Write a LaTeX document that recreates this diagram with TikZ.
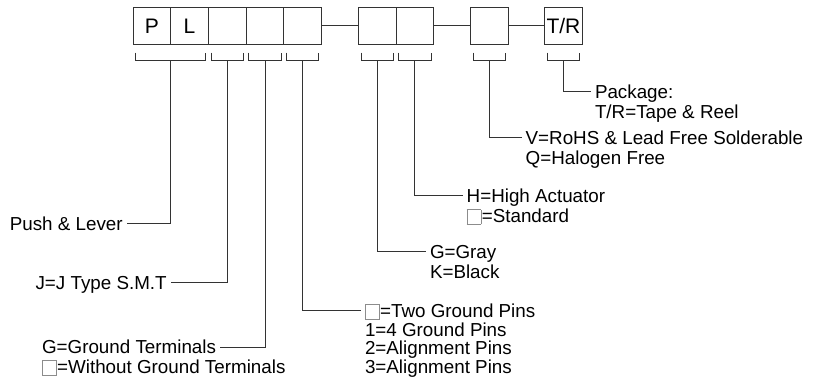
\documentclass[tikz,border=0pt]{standalone}
\usepackage{fontspec}
\setmainfont{Liberation Sans}
\usetikzlibrary{positioning,calc}
\definecolor{linegray}{gray}{0.2}
\definecolor{blankgray}{gray}{0.55}
\setlength{\fboxsep}{0pt}
\setlength{\fboxrule}{0.8pt}
% empty code position as printed in the legend
\newcommand{\blankcode}{\raisebox{-1.5pt}{\fcolorbox{blankgray}{white}{\rule{0pt}{14pt}\rule{13pt}{0pt}}}\hspace{0.5pt}}
% bracket under code boxes #1..#2, stem point #3
\newcommand{\codebracket}[3]{%
  \draw[wire] ([xshift=2.7pt,yshift=-8pt]#1.south west) -- ++(0,-8pt) -| ([xshift=-2.7pt,yshift=-8pt]#2.south east);
  \coordinate (#3) at ($([yshift=-16pt]#1.south west)!0.5!([yshift=-16pt]#2.south east)$);
}

\begin{document}
\begin{tikzpicture}[
  x=1pt, y=-1pt,
  codebox/.style={draw=linegray, line width=0.9pt, minimum width=37.7pt, minimum height=37.7pt, inner sep=0pt, outer sep=0pt, font=\fontsize{21pt}{21pt}\selectfont},
  lbl/.style={inner sep=0pt, outer xsep=4pt, text height=13.4pt, text depth=0pt, font=\fontsize{18.8pt}{20pt}\selectfont},
  wire/.style={draw=linegray, line width=0.9pt},
]
  \useasboundingbox (0,0) rectangle (815,383);

  % code boxes
  \node[codebox, anchor=north west] (b1) at (133,7) {P};
  \node[codebox, right=0pt of b1] (b2) {L};
  \node[codebox, right=0pt of b2] (b3) {};
  \node[codebox, right=0pt of b3] (b4) {};
  \node[codebox, right=0pt of b4] (b5) {};
  \node[codebox, right=36.8pt of b5] (b6) {};
  \node[codebox, right=0pt of b6] (b7) {};
  \node[codebox, right=36.6pt of b7] (b8) {};
  \node[codebox, right=36.6pt of b8] (b9) {T/R};

  \draw[wire] (b5) -- (b6);
  \draw[wire] (b7) -- (b8);
  \draw[wire] (b8) -- (b9);

  % brackets
  \codebracket{b1}{b2}{s12}
  \codebracket{b3}{b3}{s3}
  \codebracket{b4}{b4}{s4}
  \codebracket{b5}{b5}{s5}
  \codebracket{b6}{b6}{s6}
  \codebracket{b7}{b7}{s7}
  \codebracket{b8}{b8}{s8}
  \codebracket{b9}{b9}{s9}

  % legend texts
  \node[lbl, anchor=west] (pkg) at (591,91.7) {Package:};
  \node[lbl, anchor=west] (tape) at ([yshift=-20pt]pkg.west) {T/R=Tape \& Reel};
  \node[lbl, anchor=west] (rohs) at (521.7,137.7) {V=RoHS \& Lead Free Solderable};
  \node[lbl, anchor=west] (halogen) at ([yshift=-20pt]rohs.west) {Q=Halogen Free};
  \node[lbl, anchor=west] (high) at (462.7,195.7) {H=High Actuator};
  \node[lbl, anchor=west] (std) at ([yshift=-20pt]high.west) {\blankcode=Standard};
  \node[lbl, anchor=west] (gray) at (426,251.7) {G=Gray};
  \node[lbl, anchor=west] (black) at ([yshift=-20pt]gray.west) {K=Black};
  \node[lbl, anchor=west] (twopin) at (361,310.7) {\blankcode=Two Ground Pins};
  \node[lbl, anchor=west] (fourpin) at ([yshift=-18.6pt]twopin.west) {1=4 Ground Pins};
  \node[lbl, anchor=west] (alignA) at ([yshift=-18.6pt]fourpin.west) {2=Alignment Pins};
  \node[lbl, anchor=west] (alignB) at ([yshift=-18.6pt]alignA.west) {3=Alignment Pins};
  \node[lbl, anchor=east] (push) at (126.7,223.3) {Push \& Lever};
  \node[lbl, anchor=east] (jtype) at (170.7,282.7) {J=J Type S.M.T};
  \node[lbl, anchor=east] (gnd) at (220,347) {G=Ground Terminals};
  \node[lbl, anchor=west] (nognd) at ([yshift=-20pt]gnd.west) {\blankcode=Without Ground Terminals};

  % leaders
  \draw[wire] (s12) |- (push);
  \draw[wire] (s3) |- (jtype);
  \draw[wire] (s4) |- (gnd);
  \draw[wire] (s5) |- (twopin);
  \draw[wire] (s6) |- (gray);
  \draw[wire] (s7) |- (high);
  \draw[wire] (s8) |- (rohs);
  \draw[wire] (s9) |- (pkg);
\end{tikzpicture}
\end{document}
